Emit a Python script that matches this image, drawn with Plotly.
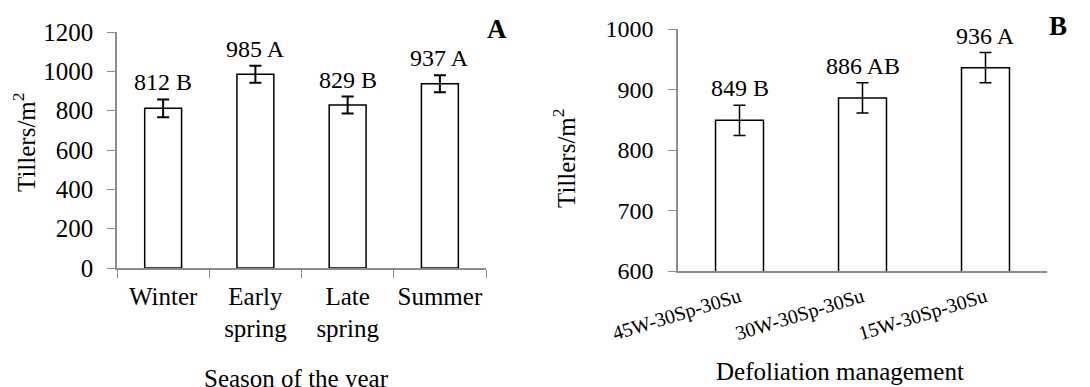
import plotly.graph_objects as go

# Panel A data
seasons = ["Winter", "Early<br>spring", "Late<br>spring", "Summer"]
season_means = [812, 985, 829, 937]
season_err = [45, 43, 43, 43]
season_letters = ["B", "A", "B", "A"]

# Panel B data
treatments = ["45W-30Sp-30Su", "30W-30Sp-30Su", "15W-30Sp-30Su"]
treat_means = [849, 886, 936]
treat_err = [25, 25, 25]
treat_letters = ["B", "AB", "A"]

OFF = 8  # page body margin
W, H = 1090 - OFF, 387 - OFF
FONT = "Liberation Serif, Times New Roman, serif"
FS = 25
AXC = "#8c8c8c"


def px_x(p):
    return (p - OFF) / W


def px_y(p):
    return 1 - (p - OFF) / H


fig = go.Figure()
fig.add_trace(go.Bar(
    x=seasons, y=season_means, xaxis="x", yaxis="y",
    marker=dict(color="white", line=dict(color="black", width=1.5)),
    error_y=dict(type="data", array=season_err, color="black", thickness=2, width=6),
    width=0.4, showlegend=False))
fig.add_trace(go.Bar(
    x=treatments, y=treat_means, xaxis="x2", yaxis="y2",
    marker=dict(color="white", line=dict(color="black", width=1.5)),
    error_y=dict(type="data", array=treat_err, color="black", thickness=1.5, width=6),
    width=0.39, showlegend=False))

ann = []
for c, m, e, l in zip(seasons, season_means, season_err, season_letters):
    ann.append(dict(x=c, y=m + e, xref="x", yref="y", text=f"{m} {l}",
                    showarrow=False, yanchor="middle", yshift=17,
                    font=dict(family=FONT, size=24, color="black")))
for c, m, e, l in zip(treatments, treat_means, treat_err, treat_letters):
    ann.append(dict(x=c, y=m + e, xref="x2", yref="y2", text=f"{m} {l}",
                    showarrow=False, yanchor="middle", yshift=17,
                    font=dict(family=FONT, size=24, color="black")))

# panel letters
ann.append(dict(x=px_x(497), y=px_y(29), xref="paper", yref="paper", text="<b>A</b>",
                showarrow=False, xanchor="center", yanchor="middle",
                font=dict(family=FONT, size=27, color="black")))
ann.append(dict(x=px_x(1058), y=px_y(26), xref="paper", yref="paper", text="<b>B</b>",
                showarrow=False, xanchor="center", yanchor="middle",
                font=dict(family=FONT, size=27, color="black")))
# y titles
for xp, yp in ((24, 142), (564, 158)):
    ann.append(dict(x=px_x(xp), y=px_y(yp), xref="paper", yref="paper",
                    text="Tillers/m<sup>2</sup>", textangle=-90, showarrow=False,
                    xanchor="center", yanchor="middle",
                    font=dict(family=FONT, size=FS, color="black")))
# x titles
ann.append(dict(x=px_x(296), y=px_y(378), xref="paper", yref="paper",
                text="Season of the year", showarrow=False,
                xanchor="center", yanchor="middle",
                font=dict(family=FONT, size=FS, color="black")))
ann.append(dict(x=px_x(840), y=px_y(371), xref="paper", yref="paper",
                text="Defoliation management", showarrow=False,
                xanchor="center", yanchor="middle",
                font=dict(family=FONT, size=FS, color="black")))

fig.update_layout(
    width=W, height=H, margin=dict(l=0, r=0, t=0, b=0),
    paper_bgcolor="white", plot_bgcolor="white",
    font=dict(family=FONT, size=FS, color="black"),
    xaxis=dict(domain=[px_x(117), px_x(486)], anchor="y", showline=True, linecolor=AXC,
               linewidth=1.5, ticks="outside", tickson="boundaries", ticklen=8,
               tickcolor=AXC, tickangle=0, ticklabelstandoff=5,
               tickfont=dict(family=FONT, size=25, color="black"),
               showgrid=False, automargin=False),
    yaxis=dict(domain=[px_y(268), px_y(32)], anchor="x", range=[0, 1200], dtick=200,
               showline=True, linecolor=AXC, linewidth=1.5, ticks="outside", ticklen=8,
               tickcolor=AXC, tickfont=dict(family=FONT, size=25, color="black"),
               ticklabelstandoff=9, showgrid=False, zeroline=False, automargin=False),
    xaxis2=dict(domain=[px_x(678), px_x(1047)], anchor="y2", showline=True, linecolor=AXC,
                linewidth=1.5, ticks="", tickangle=-17, ticklabelstandoff=5,
                tickfont=dict(family=FONT, size=20, color="black"),
                showgrid=False, automargin=False),
    yaxis2=dict(domain=[px_y(271), px_y(29)], anchor="x2", range=[600, 1000], dtick=100,
                showline=True, linecolor=AXC, linewidth=1.5, ticks="outside", ticklen=8,
                tickcolor=AXC, tickfont=dict(family=FONT, size=24, color="black"),
                ticklabelstandoff=10, showgrid=False, zeroline=False, automargin=False),
    annotations=ann,
)
fig.write_html("out.html")
